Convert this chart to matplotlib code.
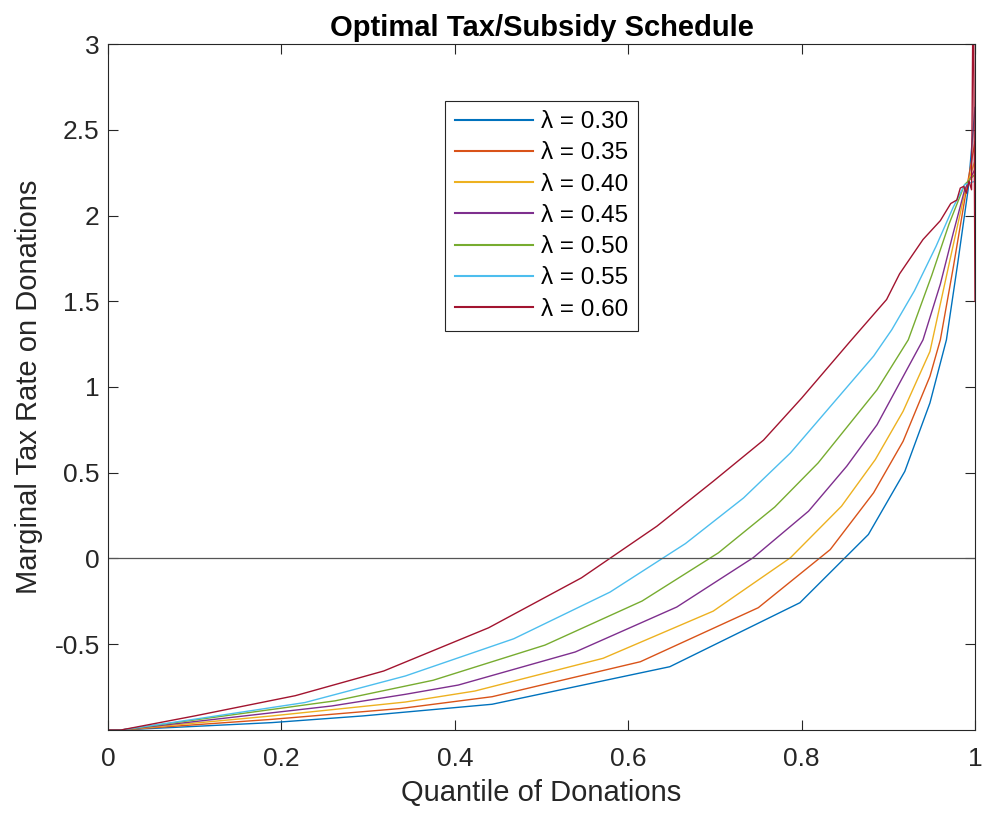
import matplotlib
matplotlib.use("Agg")
import matplotlib.pyplot as plt

plt.rcParams['font.family'] = ['Liberation Sans', 'DejaVu Sans']

# quantile grid / marginal tax rate, one pair per lambda
q_30 = [0, 0.015, 0.189, 0.294, 0.443, 0.648, 0.798, 0.877, 0.919, 0.948, 0.967, 0.980, 0.992, 1.0]
mtr_30 = [-1, -1, -0.957, -0.918, -0.85, -0.631, -0.258, 0.14, 0.508, 0.907, 1.275, 1.72, 2.15, 2.63]

q_35 = [0, 0.015, 0.189, 0.337, 0.443, 0.614, 0.750, 0.833, 0.883, 0.917, 0.948, 0.960, 0.975, 0.990, 1.0]
mtr_35 = [-1, -1, -0.938, -0.875, -0.806, -0.602, -0.287, 0.052, 0.383, 0.683, 1.062, 1.275, 1.70, 2.15, 2.43]

q_40 = [0, 0.015, 0.189, 0.343, 0.423, 0.571, 0.698, 0.787, 0.846, 0.885, 0.917, 0.948, 0.965, 0.978, 0.989, 1.0]
mtr_40 = [-1, -1, -0.918, -0.837, -0.773, -0.582, -0.307, 0.004, 0.305, 0.577, 0.858, 1.207, 1.60, 1.90, 2.15, 2.32]

q_45 = [0, 0.015, 0.258, 0.343, 0.404, 0.539, 0.656, 0.744, 0.808, 0.852, 0.887, 0.913, 0.940, 0.960, 0.975, 0.988, 1.0]
mtr_45 = [-1, -1, -0.86, -0.792, -0.738, -0.545, -0.283, 0.004, 0.276, 0.538, 0.78, 1.023, 1.275, 1.60, 1.90, 2.15, 2.27]

q_50 = [0, 0.015, 0.262, 0.343, 0.375, 0.504, 0.616, 0.704, 0.769, 0.819, 0.887, 0.923, 0.950, 0.970, 0.988, 1.0]
mtr_50 = [-1, -1, -0.83, -0.744, -0.71, -0.505, -0.248, 0.033, 0.30, 0.557, 0.984, 1.275, 1.65, 1.95, 2.18, 2.24]

q_55 = [0, 0.015, 0.112, 0.227, 0.343, 0.468, 0.579, 0.666, 0.733, 0.787, 0.883, 0.904, 0.930, 0.955, 0.975, 0.988, 1.0]
mtr_55 = [-1, -1, -0.928, -0.84, -0.685, -0.468, -0.196, 0.087, 0.353, 0.615, 1.18, 1.334, 1.56, 1.82, 2.05, 2.18, 2.20]

q_60 = [0, 0.015, 0.100, 0.216, 0.318, 0.439, 0.546, 0.633, 0.698, 0.756, 0.800, 0.856, 0.898, 0.913, 0.940,
        0.960, 0.972, 0.979, 0.983, 0.987, 0.990, 0.993, 0.996, 0.998, 1.0]
mtr_60 = [-1, -1, -0.918, -0.80, -0.656, -0.404, -0.113, 0.188, 0.45, 0.69, 0.935, 1.266, 1.51, 1.66, 1.86,
          1.97, 2.07, 2.09, 2.16, 2.17, 2.13, 2.20, 2.15, 3.5, 1.5]

lambdas = ['0.30', '0.35', '0.40', '0.45', '0.50', '0.55', '0.60']
colors = ['#0072BD', '#D95319', '#EDB120', '#7E2F8E', '#77AC30', '#4DBEEE', '#A2142F']

series = [(q_30, mtr_30), (q_35, mtr_35), (q_40, mtr_40), (q_45, mtr_45),
          (q_50, mtr_50), (q_55, mtr_55), (q_60, mtr_60)]

fig = plt.figure(figsize=(9.82, 8.18), dpi=100)
ax = fig.add_axes([0.110, 0.1076, 0.8829, 0.8386])

for (q, m), lam, c in zip(series, lambdas, colors):
    ax.plot(q, m, color=c, lw=1.0, label='λ = ' + lam)

# zero line
ax.plot([0, 1], [0, 0], color='#555555', lw=0.9)

ax.set_xlim(0, 1)
ax.set_ylim(-1, 3)
ax.set_xticks([0, 0.2, 0.4, 0.6, 0.8, 1])
ax.set_xticklabels(['0', '0.2', '0.4', '0.6', '0.8', '1'])
ax.set_yticks([-0.5, 0, 0.5, 1, 1.5, 2, 2.5, 3])
ax.set_yticklabels(['-0.5', '0', '0.5', '1', '1.5', '2', '2.5', '3'])

for s in ax.spines.values():
    s.set_color('#262626')
    s.set_linewidth(0.8)
ax.tick_params(direction='in', length=7, width=0.8, color='#262626',
               top=True, right=True, labelsize=19, labelcolor='#262626')
ax.tick_params(axis='x', pad=12)
ax.tick_params(axis='y', pad=6)

ax.set_xlabel('Quantile of Donations', fontsize=21, color='#262626', labelpad=6)
ax.set_ylabel('Marginal Tax Rate on Donations', fontsize=21, color='#262626', labelpad=8)
ax.set_title('Optimal Tax/Subsidy Schedule', fontsize=21, fontweight='bold', pad=6)

leg = ax.legend(loc='upper left', bbox_to_anchor=(0.389, 0.917), borderaxespad=0,
                fontsize=17.5, fancybox=False, framealpha=1, edgecolor='#262626',
                handlelength=3.2, handletextpad=0.3, labelspacing=0.38, borderpad=0.42)
leg.get_frame().set_linewidth(0.8)
for line in leg.get_lines():
    line.set_linewidth(1.5)

fig.savefig('out.png', dpi=100)
